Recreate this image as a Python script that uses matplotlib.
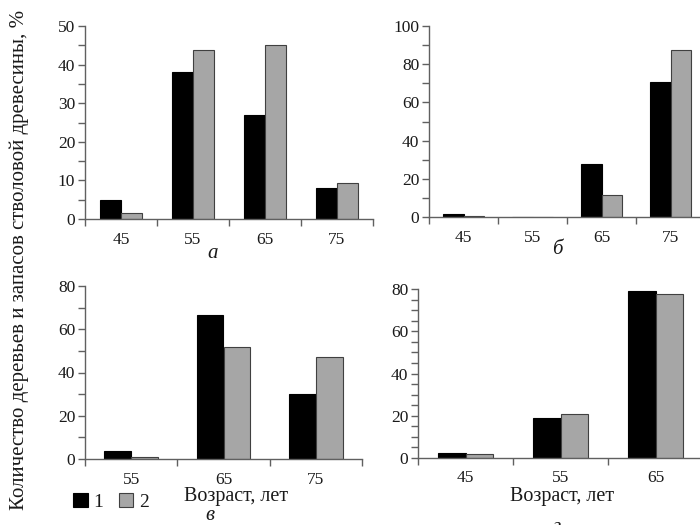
import numpy as np
import matplotlib
matplotlib.use("Agg")
import matplotlib.pyplot as plt
from matplotlib.patches import Patch
from matplotlib.ticker import MultipleLocator, FixedLocator, NullFormatter

plt.rcParams['font.family'] = ['Liberation Serif', 'DejaVu Serif']

# data
ages_a = ["45", "55", "65", "75"]
a_1 = [5.0, 38.0, 27.0, 8.0]
a_2 = [1.5, 43.7, 45.2, 9.3]

ages_b = ["45", "55", "65", "75"]
b_1 = [1.8, 0.0, 27.5, 70.5]
b_2 = [0.4, 0.0, 11.5, 87.5]

ages_c = ["55", "65", "75"]
c_1 = [3.5, 66.5, 30.0]
c_2 = [1.0, 52.0, 47.0]

ages_d = ["45", "55", "65"]
d_1 = [2.5, 19.0, 79.0]
d_2 = [2.0, 21.0, 77.5]

black = "#000000"
grey = "#a6a6a6"
axcol = "#606060"
txtcol = "#1a1a1a"
bw = 0.29


def panel(ax, cats, s1, s2, ymax, major, minor):
    x = np.arange(len(cats))
    ax.bar(x - bw / 2, s1, bw, color=black, edgecolor="black", linewidth=0.8)
    ax.bar(x + bw / 2, s2, bw, color=grey, edgecolor="#404040", linewidth=0.8)
    ax.set_xlim(-0.5, len(cats) - 0.5)
    ax.set_ylim(0, ymax)
    for s in ["top", "right"]:
        ax.spines[s].set_visible(False)
    for s in ["left", "bottom"]:
        ax.spines[s].set_color(axcol)
        ax.spines[s].set_linewidth(1.0)
    # y ticks
    ax.yaxis.set_major_locator(MultipleLocator(major))
    ax.yaxis.set_minor_locator(MultipleLocator(minor))
    ax.tick_params(axis="y", which="both", direction="out", length=5,
                   width=1.0, color=axcol, labelsize=12.5, pad=2,
                   labelcolor=txtcol)
    # x ticks: marks at boundaries, labels at centres
    ax.xaxis.set_major_locator(FixedLocator(np.arange(len(cats) + 1) - 0.5))
    ax.xaxis.set_major_formatter(NullFormatter())
    ax.xaxis.set_minor_locator(FixedLocator(x))
    ax.set_xticklabels(cats, minor=True)
    ax.tick_params(axis="x", which="major", direction="out", length=5,
                   width=1.0, color=axcol)
    ax.tick_params(axis="x", which="minor", length=0, labelsize=12.5, pad=9,
                   labelcolor=txtcol)


W, H = 700, 525
fig = plt.figure(figsize=(7, 5.25), dpi=100)


def box(l, r, y0, y1):
    return [l / W, (H - y0) / H, (r - l) / W, (y0 - y1) / H]


ax_a = fig.add_axes(box(85, 373, 219, 26))
ax_b = fig.add_axes(box(429, 705, 217, 26))
ax_c = fig.add_axes(box(85, 362, 459, 286))
ax_d = fig.add_axes(box(418, 703, 458, 289))

panel(ax_a, ages_a, a_1, a_2, 50, 10, 5)
panel(ax_b, ages_b, b_1, b_2, 100, 20, 10)
panel(ax_c, ages_c, c_1, c_2, 80, 20, 10)
panel(ax_d, ages_d, d_1, d_2, 80, 20, 5)

# panel letters
fig.text(213 / W, 1 - 254 / H, "а", fontsize=15, style="italic", ha="center", va="center", color=txtcol)
fig.text(557 / W, 1 - 250 / H, "б", fontsize=15, style="italic", ha="center", va="center", color=txtcol)
fig.text(210 / W, 1 - 516 / H, "в", fontsize=15, style="italic", ha="center", va="center", color=txtcol)
fig.text(557 / W, 1 - 518 / H, "г", fontsize=15, style="italic", ha="center", va="top", color=txtcol)

fig.text(236 / W, 1 - 497 / H, "Возраст, лет", fontsize=14.5, ha="center", va="center", color=txtcol)
fig.text(562 / W, 1 - 497 / H, "Возраст, лет", fontsize=14.5, ha="center", va="center", color=txtcol)

fig.text(19 / W, 1 - 260 / H, "Количество деревьев и запасов стволовой древесины, %",
         fontsize=15, rotation=90, ha="center", va="center", color=txtcol)

handles = [Patch(facecolor=black, edgecolor="black", linewidth=0.8, label="1"),
           Patch(facecolor=grey, edgecolor="#404040", linewidth=0.8, label="2")]
fig.legend(handles=handles, loc="center left", bbox_to_anchor=(73 / W, 1 - 502 / H),
           ncol=2, frameon=False, fontsize=14, handlelength=0.75, handleheight=0.75,
           handletextpad=0.3, columnspacing=0.8, borderpad=0, borderaxespad=0,
           labelcolor=txtcol)

fig.savefig("out.png", dpi=100)
